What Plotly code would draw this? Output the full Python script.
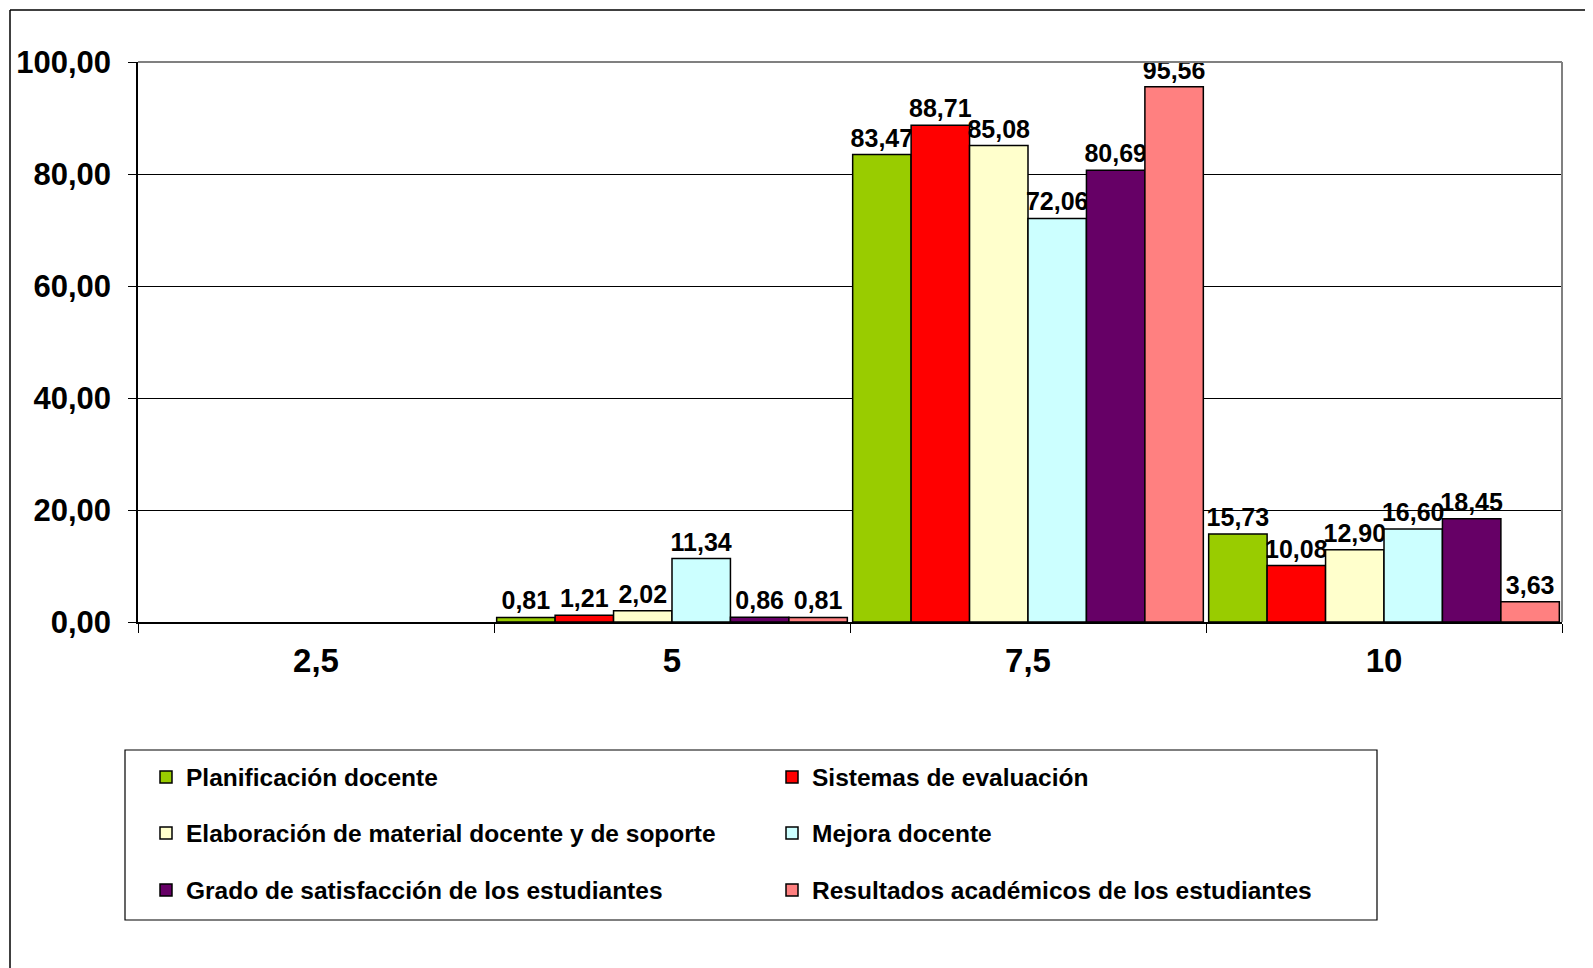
import plotly.graph_objects as go

categories = ["2,5", "5", "7,5", "10"]
series_names = [
    "Planificación docente",
    "Sistemas de evaluación",
    "Elaboración de material docente y de soporte",
    "Mejora docente",
    "Grado de satisfacción de los estudiantes",
    "Resultados académicos de los estudiantes",
]
planificacion = [None, 0.81, 83.47, 15.73]
sistemas = [None, 1.21, 88.71, 10.08]
elaboracion = [None, 2.02, 85.08, 12.90]
mejora = [None, 11.34, 72.06, 16.60]
satisfaccion = [None, 0.86, 80.69, 18.45]
resultados = [None, 0.81, 95.56, 3.63]
series_values = [planificacion, sistemas, elaboracion, mejora, satisfaccion, resultados]
colors = ["#99CC00", "#FF0000", "#FFFFCC", "#CCFFFF", "#660066", "#FF8080"]
legend_ids = ["legend", "legend", "legend2", "legend2", "legend3", "legend3"]

FONT = "Arial, Liberation Sans, sans-serif"

fig = go.Figure()
for name, vals, col, lg in zip(series_names, series_values, colors, legend_ids):
    fig.add_trace(go.Bar(
        x=categories, y=vals, name=name,
        marker=dict(color=col, line=dict(color="black", width=1.5)),
        text=[("" if v is None else f"{v:.2f}".replace(".", ",")) for v in vals],
        textposition="outside", constraintext="none", cliponaxis=False,
        textfont=dict(family=FONT, size=25, color="black", weight="bold"),
        legend=lg,
    ))

# page body has an 8px margin, so figure coordinates = page coordinates - 8
OFF = 8
W, H = 1593 - OFF, 968 - OFF
L, R, T = 138 - OFF, 31, 62 - OFF
pw = W - L - R
y0_px = 622 - OFF
B = H - y0_px
ph = H - T - B

def px_x(p):
    return (p - OFF - L) / pw

def px_y(p):
    return (y0_px - (p - OFF)) / ph

legend_common = dict(
    orientation="h", xanchor="left", yanchor="middle",
    x=px_x(146), entrywidth=581, entrywidthmode="pixels",
    font=dict(family=FONT, size=24.5, color="black", weight="bold"),
    bgcolor="rgba(0,0,0,0)", borderwidth=0,
)

fig.update_layout(
    width=W, height=H,
    margin=dict(l=L, r=R, t=T, b=B, autoexpand=False),
    paper_bgcolor="white", plot_bgcolor="white",
    barmode="group", bargap=0.015, bargroupgap=0,
    separators=",.",
    showlegend=True,
    legend=dict(**legend_common, y=px_y(777)),
    legend2=dict(**legend_common, y=px_y(833)),
    legend3=dict(**legend_common, y=px_y(890)),
    xaxis=dict(
        automargin=False,
        showgrid=False, showline=True, linecolor="black", linewidth=1.5,
        ticks="outside", tickson="boundaries", ticklen=9, tickcolor="black",
        tickfont=dict(family=FONT, size=33, color="black", weight="bold"),
        ticklabelstandoff=9,
    ),
    yaxis=dict(
        automargin=False,
        range=[0, 100], dtick=20, tickformat=".2f",
        showgrid=True, gridcolor="black", gridwidth=1,
        showline=True, linecolor="black", linewidth=1.5,
        ticks="outside", ticklen=8, tickcolor="black",
        tickfont=dict(family=FONT, size=31, color="black", weight="bold"),
        ticklabelstandoff=11, zeroline=False,
    ),
    shapes=[
        dict(type="line", xref="paper", yref="paper", x0=0, x1=1, y0=1, y1=1,
             line=dict(color="#808080", width=2)),
        dict(type="line", xref="paper", yref="paper", x0=1, x1=1, y0=0, y1=1,
             line=dict(color="#808080", width=2)),
        dict(type="rect", xref="paper", yref="paper",
             x0=px_x(125), x1=px_x(1377), y0=px_y(750), y1=px_y(920),
             line=dict(color="black", width=1.2), fillcolor="rgba(0,0,0,0)"),
        dict(type="line", xref="paper", yref="paper",
             x0=px_x(10), x1=px_x(10), y0=px_y(10), y1=px_y(975),
             line=dict(color="black", width=1.5)),
        dict(type="line", xref="paper", yref="paper",
             x0=px_x(10), x1=px_x(1600), y0=px_y(10), y1=px_y(10),
             line=dict(color="black", width=1.5)),
    ],
)

fig.write_html("out.html")
